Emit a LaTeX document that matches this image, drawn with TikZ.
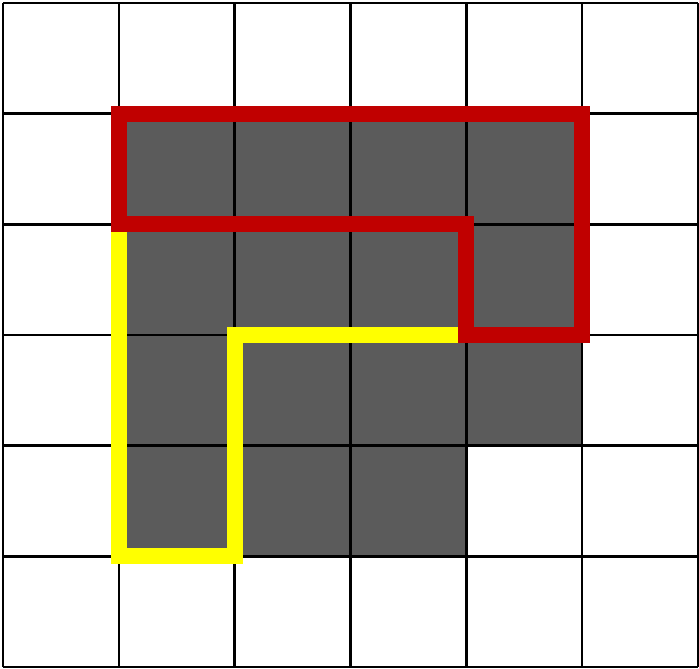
\documentclass[tikz,border=0pt]{standalone}
\usepackage{tikz}
\definecolor{cellgray}{HTML}{5B5B5B}
\definecolor{routered}{HTML}{C00000}
\definecolor{routeyellow}{HTML}{FFFF00}

\begin{document}
\begin{tikzpicture}[x=57.917pt,y=-55.333pt,
  gridline/.style={draw=black,line width=1.2pt,xstep=57.917pt,ystep=55.333pt},
  route/.style={line width=8pt,line join=miter}]
\useasboundingbox (-1.5pt,1.5pt) rectangle (348pt,-332.5pt);
% shaded cells
\fill[cellgray] (1,1) rectangle (5,4) (1,4) rectangle (4,5);
\draw[gridline] (0,0) grid (6,6);
% the two outlines
\draw[route,routeyellow] (1,2) -- (1,5) -- (2,5) -- (2,3) -- (4,3);
\draw[route,routered] (1,2) -- (1,1) -- (5,1) -- (5,3) -- (4,3) -- (4,2) -- cycle;
\end{tikzpicture}
\end{document}
